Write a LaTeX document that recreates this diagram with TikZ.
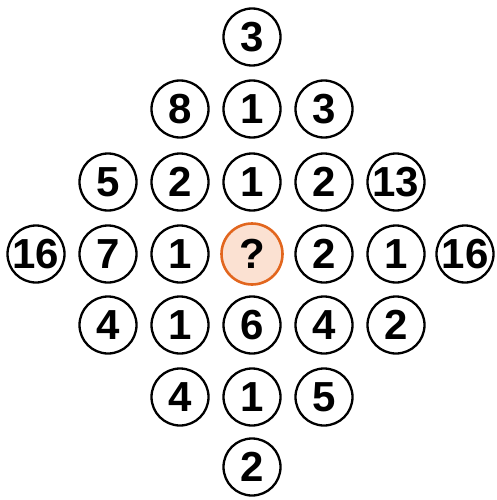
\documentclass[tikz,border=0pt]{standalone}
\usepackage{fontspec}
\setmainfont{Liberation Sans}
\definecolor{qfill}{HTML}{FBE1D2}
\definecolor{qdraw}{HTML}{E2661E}
\begin{document}
\begin{tikzpicture}[x=1pt,y=-1pt,
  num/.style={circle,draw=black,line width=2.3pt,minimum size=57pt,inner sep=0pt,
    font=\fontsize{42}{42}\selectfont\bfseries},
  qnum/.style={num,draw=qdraw,fill=qfill,line width=2.6pt,minimum size=61pt}]
\useasboundingbox (0,0) rectangle (497,500);
\def\cA{36}\def\cB{108}\def\cC{180}\def\cD{252}\def\cE{324}\def\cF{396}\def\cG{465}
\def\rA{37}\def\rB{109}\def\rC{182}\def\rD{254}\def\rE{325}\def\rF{397}\def\rG{467}
% row 0
\node[num] (a3) at (\cD,\rA) {3};
% row 1
\node[num] (b2) at (\cC,\rB) {8};
\node[num] (b3) at (\cD,\rB) {1};
\node[num] (b4) at (\cE,\rB) {3};
% row 2
\node[num] (c1) at (\cB,\rC) {5};
\node[num] (c2) at (\cC,\rC) {2};
\node[num] (c3) at (\cD,\rC) {1};
\node[num] (c4) at (\cE,\rC) {2};
\node[num] (c5) at (\cF,\rC) {13};
% row 3
\node[num] (d0) at (\cA,\rD) {16};
\node[num] (d1) at (\cB,\rD) {7};
\node[num] (d2) at (\cC,\rD) {1};
\node[qnum] (d3) at (\cD,\rD) {?};
\node[num] (d4) at (\cE,\rD) {2};
\node[num] (d5) at (\cF,\rD) {1};
\node[num] (d6) at (\cG,\rD) {16};
% row 4
\node[num] (e1) at (\cB,\rE) {4};
\node[num] (e2) at (\cC,\rE) {1};
\node[num] (e3) at (\cD,\rE) {6};
\node[num] (e4) at (\cE,\rE) {4};
\node[num] (e5) at (\cF,\rE) {2};
% row 5
\node[num] (f2) at (\cC,\rF) {4};
\node[num] (f3) at (\cD,\rF) {1};
\node[num] (f4) at (\cE,\rF) {5};
% row 6
\node[num] (g3) at (\cD,\rG) {2};
\end{tikzpicture}
\end{document}
